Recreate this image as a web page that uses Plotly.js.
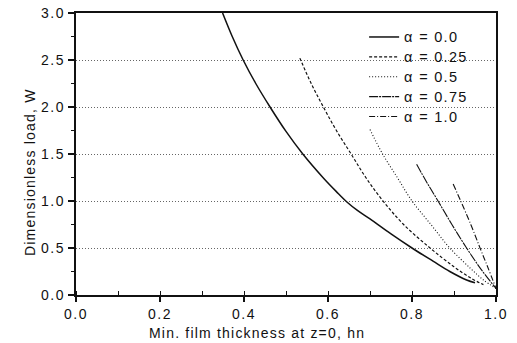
<!DOCTYPE html>
<html>
<head>
<meta charset="utf-8">
<script src="https://cdn.plot.ly/plotly-3.0.1.min.js"></script>
<style>
html,body{margin:0;padding:0;background:#fff;}
#chart{width:517px;height:343px;}
.xtick text, .ytick text{letter-spacing:1.6px;}
.annotation-text{letter-spacing:1.2px;}
.legendtext{font-size:14.5px !important; letter-spacing:1.3px;}
</style>
</head>
<body>
<div id="chart"></div>
<script>
// Data
const seriesNames = ["α = 0.0", "α = 0.25", "α = 0.5", "α = 0.75", "α = 1.0"];
const x_a000 = [0.349, 0.372, 0.398, 0.428, 0.462, 0.50, 0.54, 0.59, 0.62, 0.645, 0.67, 0.70, 0.75, 0.80, 0.85, 0.89, 0.93, 0.95];
const y_a000 = [3.0, 2.75, 2.5, 2.25, 2.0, 1.74, 1.5, 1.24, 1.1, 0.99, 0.9, 0.81, 0.65, 0.50, 0.36, 0.25, 0.16, 0.13];
const x_a025 = [0.533, 0.56, 0.589, 0.62, 0.655, 0.69, 0.731, 0.78, 0.843, 0.90, 0.94, 0.97];
const y_a025 = [2.52, 2.25, 2.0, 1.75, 1.5, 1.25, 1.0, 0.75, 0.5, 0.3, 0.18, 0.11];
const x_a050 = [0.70, 0.73, 0.765, 0.80, 0.845, 0.89, 0.94, 0.97, 1.0];
const y_a050 = [1.76, 1.5, 1.25, 1.0, 0.75, 0.5, 0.28, 0.16, 0.07];
const x_a075 = [0.811, 0.835, 0.862, 0.895, 0.93, 0.965, 1.0];
const y_a075 = [1.39, 1.2, 1.0, 0.75, 0.5, 0.27, 0.07];
const x_a100 = [0.898, 0.916, 0.94, 0.962, 0.98, 1.0];
const y_a100 = [1.18, 1.0, 0.75, 0.5, 0.3, 0.07];

const xs = [x_a000, x_a025, x_a050, x_a075, x_a100];
const ys = [y_a000, y_a025, y_a050, y_a075, y_a100];
const dashes = ["solid", "3px,2px", "1px,2px", "9px,1px,2px,1px", "6px,2px,1px,2px"];
const widths = [1.5, 1.2, 1.1, 1.1, 1.1];

const FONT = "Liberation Sans, Arial, sans-serif";

const traces = seriesNames.map((n, i) => ({
  x: xs[i], y: ys[i], mode: "lines", name: n, type: "scatter",
  line: {color: "#111", width: widths[i], dash: dashes[i], shape: "spline", smoothing: 1}
}));

const layout = {
  width: 517, height: 343,
  margin: {l: 76, r: 21, t: 13, b: 48},
  paper_bgcolor: "#fff", plot_bgcolor: "#fff",
  font: {family: FONT, size: 13, color: "#111"},
  showlegend: true,
  legend: {x: 0.686, xanchor: "left", y: 0.968, yanchor: "top",
           bgcolor: "rgba(0,0,0,0)", font: {family: FONT, size: 13, color: "#111"},
           tracegroupgap: 0},
  xaxis: {
    range: [0, 1.0], tickvals: [0, 0.2, 0.4, 0.6, 0.8, 1.0], tickformat: ".1f",
    ticks: "outside", ticklen: 5, tickwidth: 1.2, tickcolor: "#111",
    minor: {dtick: 0.1, ticks: "inside", ticklen: 4, tickwidth: 1, tickcolor: "#111", showgrid: false},
    showline: true, linecolor: "#111", linewidth: 2, mirror: true,
    showgrid: false, zeroline: false,
    tickfont: {family: FONT, size: 14, color: "#111"},
    title: {text: ""}
  },
  yaxis: {
    range: [0, 3.0], tickvals: [0, 0.5, 1.0, 1.5, 2.0, 2.5, 3.0], tickformat: ".1f",
    ticks: "outside", ticklen: 6, tickwidth: 1.2, tickcolor: "#111",
    minor: {dtick: 0.25, ticks: "outside", ticklen: 3, tickwidth: 1, tickcolor: "#111", showgrid: false},
    showline: true, linecolor: "#111", linewidth: 2, mirror: true,
    showgrid: true, gridcolor: "#666", gridwidth: 1, griddash: "1px,2px",
    zeroline: false,
    tickfont: {family: FONT, size: 14, color: "#111"},
    title: {text: ""}
  },
  annotations: [
    {text: "Min. film thickness at z=0, hn", xref: "paper", yref: "paper",
     x: (257 - 76) / 420, y: -(333 - 295) / 282, xanchor: "center", yanchor: "middle",
     showarrow: false, font: {family: FONT, size: 14, color: "#111"}},
    {text: "Dimensionless load, W", xref: "paper", yref: "paper",
     x: -(76 - 30) / 420, y: (295 - 172) / 282, xanchor: "center", yanchor: "middle",
     textangle: -90, showarrow: false, font: {family: FONT, size: 14, color: "#111"}}
  ]
};

Plotly.newPlot("chart", traces, layout, {displayModeBar: false, staticPlot: true});
</script>
</body>
</html>
